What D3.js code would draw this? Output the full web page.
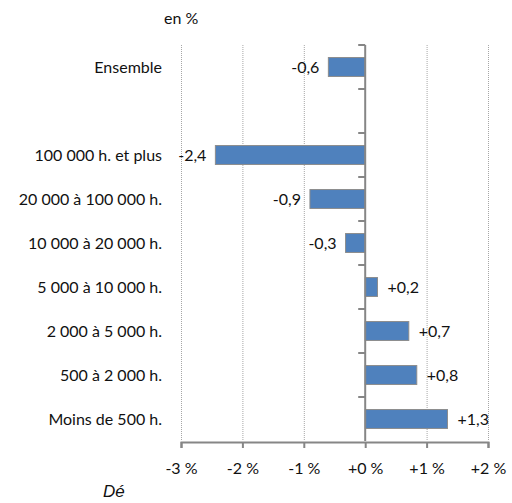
<!DOCTYPE html>
<html>
<head>
<meta charset="utf-8">
<script src="https://cdn.jsdelivr.net/npm/d3@7"></script>
<style>
  body { margin: 0; background: #fff; }
  text { font-family: Lato, "Open Sans", sans-serif; fill: #111; }
</style>
</head>
<body>
<svg id="chart" width="512" height="503"></svg>
<script>
// categories top to bottom, "" is the empty slot under Ensemble
var categories = ["Ensemble", "", "100 000 h. et plus", "20 000 à 100 000 h.", "10 000 à 20 000 h.",
  "5 000 à 10 000 h.", "2 000 à 5 000 h.", "500 à 2 000 h.", "Moins de 500 h."];
var barCats = ["Ensemble", "100 000 h. et plus", "20 000 à 100 000 h.", "10 000 à 20 000 h.",
  "5 000 à 10 000 h.", "2 000 à 5 000 h.", "500 à 2 000 h.", "Moins de 500 h."];
var values = [-0.6, -2.44, -0.9, -0.32, 0.2, 0.71, 0.84, 1.34];
var xTicks = [-3, -2, -1, 0, 1, 2];

var svg = d3.select("#chart");
var plotL = 181, plotR = 488, plotT = 45, plotB = 441;
var fs = "16px";

var x = d3.scaleLinear().domain([-3, 2]).range([plotL, plotR]);
var y = d3.scaleBand().domain(categories).range([plotT, plotB])
  .paddingInner(0.57).paddingOuter(0.285);

var fmtVal = function(v){
  var s = Math.abs(v).toFixed(1).replace(".", ",");
  return (v < 0 ? "-" : "+") + s;
};

// dotted gridlines
svg.append("g").selectAll("line")
  .data(xTicks.filter(function(d){ return d !== 0; }))
  .enter().append("line")
  .attr("x1", function(d){ return x(d) + 0.5; })
  .attr("x2", function(d){ return x(d) + 0.5; })
  .attr("y1", plotT).attr("y2", plotB)
  .attr("stroke", "#a6a6a6")
  .attr("stroke-width", 1)
  .attr("stroke-dasharray", "1,1");

// bars
svg.append("g").selectAll("rect")
  .data(values)
  .enter().append("rect")
  .attr("x", function(d){ return x(Math.min(0, d)); })
  .attr("y", function(d, i){ return y(barCats[i]); })
  .attr("width", function(d){ return Math.abs(x(d) - x(0)); })
  .attr("height", y.bandwidth())
  .attr("fill", "#4f81bd")
  .attr("stroke", "#8c8c8c")
  .attr("stroke-width", 1);

// value labels
svg.append("g").selectAll("text")
  .data(values)
  .enter().append("text")
  .attr("x", function(d){ return d < 0 ? x(d) - 9 : x(d) + 10; })
  .attr("y", function(d, i){ return y(barCats[i]) + y.bandwidth() / 2; })
  .attr("dy", "0.35em")
  .attr("text-anchor", function(d){ return d < 0 ? "end" : "start"; })
  .style("font-size", fs)
  .text(fmtVal);

// vertical axis at zero with boundary ticks
var x0 = x(0);
svg.append("line")
  .attr("x1", x0).attr("x2", x0).attr("y1", plotT).attr("y2", plotB)
  .attr("stroke", "#868686").attr("stroke-width", 2);
var gap = (y.step() - y.bandwidth()) / 2;
svg.append("g").selectAll("line")
  .data(categories)
  .enter().append("line")
  .attr("x1", x0 - 7).attr("x2", x0)
  .attr("y1", function(d){ return y(d) - gap; })
  .attr("y2", function(d){ return y(d) - gap; })
  .attr("stroke", "#868686").attr("stroke-width", 2);

// horizontal axis
var xAxis = d3.axisBottom(x).tickValues(xTicks).tickSize(6).tickPadding(15)
  .tickFormat(function(d){ return (d < 0 ? "-" : "+") + Math.abs(d) + " %"; });
var gx = svg.append("g").attr("transform", "translate(0," + (plotB + 1) + ")").call(xAxis);
gx.select(".domain").attr("stroke", "#868686").attr("stroke-width", 2);
gx.selectAll(".tick line").attr("stroke", "#868686").attr("stroke-width", 2);
gx.selectAll(".tick text").style("font-size", fs).attr("fill", "#111")
  .style("font-family", "Lato, sans-serif");

// category labels
svg.append("g").selectAll("text")
  .data(categories.filter(function(d){ return d !== ""; }))
  .enter().append("text")
  .attr("x", 162)
  .attr("y", function(d){ return y(d) + y.bandwidth() / 2; })
  .attr("dy", "0.35em")
  .attr("text-anchor", "end")
  .style("font-size", fs)
  .text(function(d){ return d; });

svg.append("text").attr("x", 164).attr("y", 24)
  .style("font-size", fs).text("en %");

svg.append("text").attr("x", 103).attr("y", 497)
  .style("font-family", "Liberation Sans, Arial, sans-serif")
  .style("font-style", "italic").style("font-size", "17px")
  .attr("fill", "#000").text("Dé");
</script>
</body>
</html>
